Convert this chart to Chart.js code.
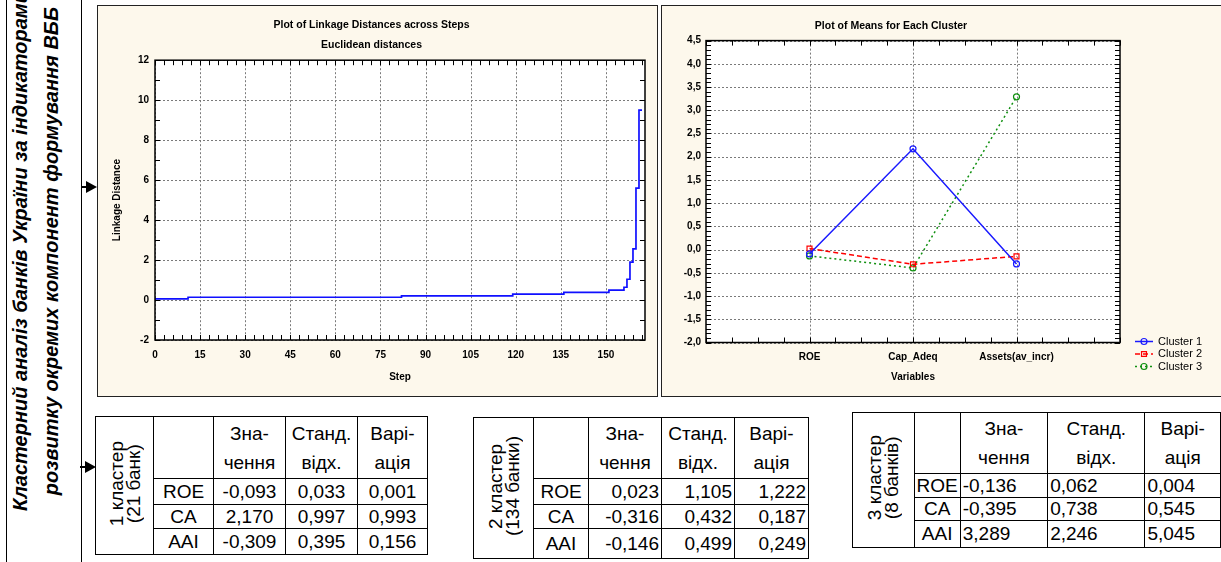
<!DOCTYPE html>
<html lang="uk">
<head>
<meta charset="utf-8">
<title>Кластерний аналіз банків України</title>
<script src="https://cdn.jsdelivr.net/npm/chart.js@4.4.1/dist/chart.umd.min.js"></script>
<style>
  body { margin: 0; width: 1221px; height: 562px; position: relative; overflow: hidden; background: #fff; font-family: "Liberation Sans", Arial, sans-serif; }
  #sideBox { position: absolute; left: 6px; top: -2px; width: 74px; height: 570px; border-left: 1.5px solid #000; border-right: 1.5px solid #000; }
  #sideText { position: absolute; left: 5px; top: 551px; width: 600px; transform-origin: 0 0; transform: rotate(-90deg);
    font-weight: bold; font-style: italic; font-size: 20px; line-height: 31px; text-align: center; white-space: nowrap; }
  .arrow { position: absolute; width: 16px; height: 12px; }
  .arrow::before { content: ''; position: absolute; left: 0; top: 5px; width: 6px; height: 1.5px; background: #000; }
  .arrow::after { content: ''; position: absolute; right: 0; top: 0; border-left: 11px solid #000; border-top: 6px solid transparent; border-bottom: 6px solid transparent; }
  .panel { position: absolute; background: #fdf8ec; border: 1.5px solid #222; box-sizing: border-box; }
  .panel canvas { position: absolute; left: 0; top: 0; }
  #p1 { left: 97px; top: 5px; width: 561px; height: 392px; }
  #p2 { left: 661px; top: 5px; width: 565px; height: 392px; }
  table.st { position: absolute; border-collapse: collapse; table-layout: fixed; font-family: "Liberation Sans Narrow", "Liberation Sans", Arial, sans-serif; font-size: 19px; color: #000; }
  table.st td { border: 1px solid #000; padding: 0 2px; line-height: 20px; text-align: center; vertical-align: middle; white-space: nowrap; overflow: hidden; }
  table.st td.hd { line-height: 29px; }
  table.st td.rot div { display: inline-block; writing-mode: vertical-rl; transform: rotate(180deg); line-height: 17px; }
</style>
</head>
<body>
<div id="sideBox"></div>
<div id="sideText">Кластерний аналіз банків України за індикаторами<br>розвитку окремих компонент формування ВББ</div>
<div class="arrow" style="left:81px; top:181px"></div>
<div class="arrow" style="left:80px; top:461px"></div>

<div class="panel" id="p1"><canvas id="chartLinkage" width="558" height="389"></canvas></div>
<div class="panel" id="p2"><canvas id="chartMeans" width="562" height="389"></canvas></div>

<script>
// --- DADOS ---
// gráfico 1: distâncias de ligação por passo (degraus)
const steps = [0, 11, 82, 119, 136, 151, 156, 157, 158, 159, 160, 161, 162];
const linkDist = [0.0, 0.06, 0.14, 0.21, 0.30, 0.38, 0.50, 0.64, 1.04, 1.90, 2.56, 5.60, 9.50];
const stepTicks = [0, 15, 30, 45, 60, 75, 90, 105, 120, 135, 150];
const distTicks = [-2, 0, 2, 4, 6, 8, 10, 12];

// gráfico 2: médias por cluster
const variables = ['ROE', 'Cap_Adeq', 'Assets(av_incr)'];
const clusterNames = ['Cluster 1', 'Cluster 2', 'Cluster 3'];
const meanTicks = [-2, -1.5, -1, -0.5, 0, 0.5, 1, 1.5, 2, 2.5, 3, 3.5, 4, 4.5];

// tabelas
const rowLabels = ['ROE', 'CA', 'AAI'];
const headers = ['Зна-<br>чення', 'Станд.<br>відх.', 'Варі-<br>ація'];
const clusterTitles = ['1 кластер<br>(21 банк)', '2 кластер<br>(134 банки)', '3 кластер<br>(8 банків)'];
const c1Mean = [-0.093, 2.170, -0.309];
const c1Std = [0.033, 0.997, 0.395];
const c1Var = [0.001, 0.993, 0.156];
const c2Mean = [0.023, -0.316, -0.146];
const c2Std = [1.105, 0.432, 0.499];
const c2Var = [1.222, 0.187, 0.249];
const c3Mean = [-0.136, -0.395, 3.289];
const c3Std = [0.062, 0.738, 2.246];
const c3Var = [0.004, 0.545, 5.045];

Chart.defaults.font.family = '"Liberation Sans", Arial, sans-serif';
Chart.defaults.color = '#000';

const fonteEixo = { size: 10, weight: 'bold' };
const virgula = v => v.toFixed(1).replace('.', ',');

// fundo branco + grade pontilhada por baixo das linhas
const moldura = {
    id: 'moldura',
    beforeDraw(chart) {
        const { ctx, chartArea: a } = chart;
        ctx.save();
        ctx.fillStyle = '#fff';
        ctx.fillRect(a.left, a.top, a.width, a.height);
        ctx.restore();
    },
    beforeDatasetsDraw(chart) {
        const { ctx, chartArea: a, scales: { x, y } } = chart;
        ctx.save();
        ctx.strokeStyle = '#7a7a7a';
        ctx.lineWidth = 1;
        ctx.setLineDash([2, 2]);
        ctx.beginPath();
        x.ticks.forEach(t => {
            const px = Math.round(x.getPixelForValue(t.value)) + 0.5;
            ctx.moveTo(px, a.top); ctx.lineTo(px, a.bottom);
        });
        y.ticks.forEach(t => {
            const py = Math.round(y.getPixelForValue(t.value)) + 0.5;
            ctx.moveTo(a.left, py); ctx.lineTo(a.right, py);
        });
        ctx.stroke();
        ctx.restore();
    },
    // marcas pequenas nos 4 lados e moldura preta
    afterDraw(chart, args, opts) {
        const { ctx, chartArea: a, scales: { x, y } } = chart;
        const xStep = opts.xStep || 1, yStep = opts.yStep || 1;
        ctx.save();
        ctx.strokeStyle = '#000';
        ctx.lineWidth = 1;
        ctx.beginPath();
        const nx = Math.round((x.max - x.min) / xStep);
        for (let i = 0; i <= nx; i++) {
            const px = Math.round(x.getPixelForValue(x.min + i * xStep)) + 0.5;
            ctx.moveTo(px, a.bottom); ctx.lineTo(px, a.bottom - 5);
            ctx.moveTo(px, a.top); ctx.lineTo(px, a.top + 5);
        }
        const ny = Math.round((y.max - y.min) / yStep);
        for (let i = 0; i <= ny; i++) {
            const py = Math.round(y.getPixelForValue(y.min + i * yStep)) + 0.5;
            ctx.moveTo(a.left, py); ctx.lineTo(a.left + 5, py);
            ctx.moveTo(a.right, py); ctx.lineTo(a.right - 5, py);
        }
        ctx.stroke();
        ctx.lineWidth = 1.5;
        ctx.strokeRect(a.left, a.top, a.width, a.height);
        ctx.restore();
    }
};

// legenda ao lado, com linha + marcador
const legendaLateral = {
    id: 'legendaLateral',
    afterDraw(chart) {
        const { ctx, chartArea: a } = chart;
        chart.data.datasets.forEach((ds, i) => {
            const y = a.bottom - 1 + i * 12.5;
            const x0 = a.right + 15;
            ctx.save();
            ctx.strokeStyle = ds.borderColor;
            ctx.fillStyle = 'rgba(255,255,255,0)';
            ctx.lineWidth = 1.5;
            ctx.setLineDash(ds.borderDash || []);
            ctx.beginPath();
            ctx.moveTo(x0, y); ctx.lineTo(x0 + 18, y);
            ctx.stroke();
            ctx.setLineDash([]);
            ctx.lineWidth = 1.2;
            Chart.helpers.drawPoint(ctx, { pointStyle: ds.pointStyle, radius: ds.pointRadius, rotation: 0, borderWidth: 1.2 }, x0 + 9, y);
            ctx.fillStyle = '#000';
            ctx.font = '11px "Liberation Sans", Arial, sans-serif';
            ctx.textBaseline = 'middle';
            ctx.fillText(ds.label, x0 + 23, y);
            ctx.restore();
        });
    }
};

const semGrade = { display: false, drawTicks: false };

// --- GRÁFICO 1 ---
new Chart(document.getElementById('chartLinkage'), {
    type: 'line',
    data: {
        datasets: [{
            data: steps.map((s, i) => ({ x: s, y: linkDist[i] })),
            borderColor: '#1010ff',
            borderWidth: 1.7,
            stepped: 'after',
            pointRadius: 0,
            fill: false
        }]
    },
    options: {
        responsive: false,
        animation: false,
        devicePixelRatio: 1,
        layout: { padding: { top: 0, right: 11, left: 0, bottom: 0 } },
        plugins: {
            legend: { display: false },
            tooltip: { enabled: false },
            title: { display: true, text: 'Plot of Linkage Distances across Steps', font: { size: 10.5, weight: 'bold' }, padding: { top: 13, bottom: 0 } },
            subtitle: { display: true, text: 'Euclidean distances', color: '#000', font: { size: 10.5, weight: 'bold' }, padding: { top: 7, bottom: 9 } },
            moldura: { xStep: 3, yStep: 1 }
        },
        scales: {
            x: {
                type: 'linear', min: 0, max: 163,
                afterBuildTicks: s => { s.ticks = stepTicks.map(v => ({ value: v })); },
                afterFit: s => { s.height = 55; },
                grid: semGrade,
                border: { display: false },
                ticks: { padding: 9, font: fonteEixo, maxRotation: 0 },
                title: { display: true, text: 'Step', font: fonteEixo, padding: { top: 12, bottom: 12 } }
            },
            y: {
                type: 'linear', min: -2, max: 12,
                afterBuildTicks: s => { s.ticks = distTicks.map(v => ({ value: v })); },
                afterFit: s => { s.width = 57; },
                grid: semGrade,
                border: { display: false },
                ticks: { padding: 6, font: fonteEixo },
                title: { display: true, text: 'Linkage Distance', font: fonteEixo, padding: { top: 13, bottom: 0 } }
            }
        }
    },
    plugins: [moldura]
});

// --- GRÁFICO 2 ---
const coresCluster = ['#1a1aff', '#ff0000', '#109010'];
const tracos = [[], [5, 3], [2, 3]];
const marcadores = ['circle', 'rect', 'circle'];
const medias = [c1Mean, c2Mean, c3Mean];

new Chart(document.getElementById('chartMeans'), {
    type: 'line',
    data: {
        datasets: medias.map((m, i) => ({
            label: clusterNames[i],
            data: m.map((v, j) => ({ x: j + 1, y: v })),
            borderColor: coresCluster[i],
            borderWidth: 1.5,
            borderDash: tracos[i],
            pointStyle: marcadores[i],
            pointRadius: i === 1 ? 3.5 : 3,
            pointBorderWidth: 1.2,
            pointBackgroundColor: 'rgba(255,255,255,0)',
            pointBorderColor: coresCluster[i],
            fill: false
        }))
    },
    options: {
        responsive: false,
        animation: false,
        devicePixelRatio: 1,
        layout: { padding: { top: 0, right: 104, left: 0, bottom: 0 } },
        plugins: {
            legend: { display: false },
            tooltip: { enabled: false },
            title: { display: true, text: 'Plot of Means for Each Cluster', font: { size: 10.5, weight: 'bold' }, padding: { top: 14, bottom: 8 } },
            moldura: { xStep: 0.25, yStep: 0.1 }
        },
        scales: {
            x: {
                type: 'linear', min: 0, max: 4,
                afterBuildTicks: s => { s.ticks = variables.map((v, i) => ({ value: i + 1 })); },
                afterFit: s => { s.height = 52.5; },
                grid: semGrade,
                border: { display: false },
                ticks: { padding: 9, font: fonteEixo, maxRotation: 0, callback: v => variables[v - 1] },
                title: { display: true, text: 'Variables', font: fonteEixo, padding: { top: 12, bottom: 12 } }
            },
            y: {
                type: 'linear', min: -2, max: 4.5,
                afterBuildTicks: s => { s.ticks = meanTicks.map(v => ({ value: v })); },
                afterFit: s => { s.width = 44; },
                grid: semGrade,
                border: { display: false },
                ticks: { padding: 5, font: fonteEixo, callback: v => virgula(v) }
            }
        }
    },
    plugins: [moldura, legendaLateral]
});

// --- TABELAS ---
function fmt(v) { return v.toFixed(3).replace('.', ','); }

function montarTabela(titulo, media, desvio, variacao, pos) {
    const t = document.createElement('table');
    t.className = 'st';
    t.style.left = pos.left + 'px';
    t.style.top = pos.top + 'px';
    let html = '<colgroup>' + pos.cols.map(w => `<col style="width:${w}px">`).join('') + '</colgroup>';
    html += `<tr style="height:${pos.rows[0]}px"><td class="rot" rowspan="4"><div>${titulo}</div></td><td></td>` +
        headers.map(h => `<td class="hd">${h}</td>`).join('') + '</tr>';
    rowLabels.forEach((r, i) => {
        const al = `text-align:${pos.align}`;
        html += `<tr style="height:${pos.rows[i + 1]}px"><td>${r}</td>` +
            [media[i], desvio[i], variacao[i]].map(v => `<td style="${al}">${fmt(v)}</td>`).join('') + '</tr>';
    });
    t.innerHTML = html;
    document.body.appendChild(t);
}

montarTabela(clusterTitles[0], c1Mean, c1Std, c1Var, { left: 95, top: 416, cols: [58, 60, 72, 72, 70], rows: [62, 26, 24, 26], align: 'center' });
montarTabela(clusterTitles[1], c2Mean, c2Std, c2Var, { left: 473, top: 417, cols: [60, 55, 73, 73, 74], rows: [61, 26, 24, 30], align: 'right' });
montarTabela(clusterTitles[2], c3Mean, c3Std, c3Var, { left: 852, top: 412, cols: [62, 46, 88, 98, 76], rows: [61, 24, 23, 27], align: 'left' });
</script>
</body>
</html>
